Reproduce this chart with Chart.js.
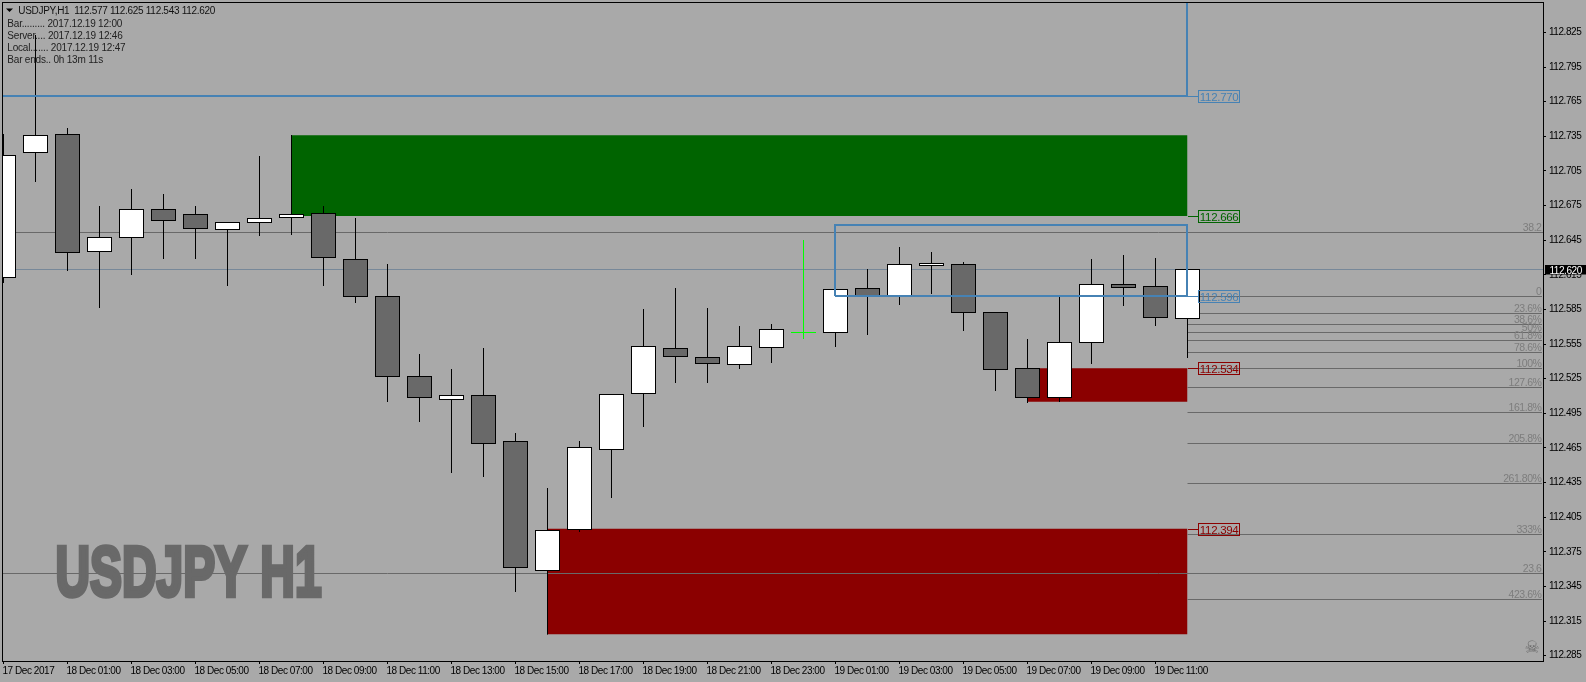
<!DOCTYPE html>
<html>
<head>
<meta charset="utf-8">
<style>html,body{margin:0;padding:0;background:#A9A9A9;overflow:hidden}canvas{display:block}</style>
<script src="https://cdn.jsdelivr.net/npm/chart.js@4"></script>
</head>
<body>
<canvas id="c" width="1586" height="682"></canvas>
<script>
const opens  = [112.613,112.721,112.737,112.635,112.647,112.672,112.668,112.654,112.660,112.665,112.669,112.629,112.597,112.527,112.507,112.511,112.471,112.359,112.394,112.464,112.512,112.552,112.544,112.537,112.552,112.565,112.565,112.604,112.597,112.623,112.624,112.583,112.534,112.509,112.556,112.607,112.605,112.577];
const closes = [112.719,112.736,112.634,112.648,112.672,112.662,112.655,112.661,112.664,112.668,112.630,112.596,112.527,112.509,112.511,112.469,112.361,112.394,112.466,112.512,112.553,112.544,112.538,112.553,112.568,112.565,112.603,112.597,112.624,112.625,112.582,112.533,112.509,112.557,112.607,112.604,112.578,112.620];
const highs  = [112.737,112.823,112.742,112.675,112.689,112.685,112.675,112.661,112.718,112.668,112.675,112.664,112.624,112.546,112.533,112.552,112.478,112.430,112.471,112.512,112.585,112.604,112.586,112.571,112.572,112.645,112.603,112.620,112.639,112.635,112.626,112.583,112.559,112.596,112.629,112.632,112.630,112.625];
const lows   = [112.608,112.696,112.619,112.587,112.615,112.629,112.629,112.606,112.649,112.650,112.606,112.591,112.505,112.488,112.444,112.440,112.341,112.357,112.393,112.422,112.484,112.522,112.522,112.534,112.539,112.560,112.553,112.563,112.589,112.599,112.567,112.515,112.504,112.505,112.538,112.588,112.571,112.543];

const xTickLabels = ["17 Dec 2017","18 Dec 01:00","18 Dec 03:00","18 Dec 05:00","18 Dec 07:00","18 Dec 09:00","18 Dec 11:00","18 Dec 13:00","18 Dec 15:00","18 Dec 17:00","18 Dec 19:00","18 Dec 21:00","18 Dec 23:00","19 Dec 01:00","19 Dec 03:00","19 Dec 05:00","19 Dec 07:00","19 Dec 09:00","19 Dec 11:00"];
const yTickValues = [112.285,112.315,112.345,112.375,112.405,112.435,112.465,112.495,112.525,112.555,112.585,112.615,112.645,112.675,112.705,112.735,112.765,112.795,112.825];

const zoneStartBars = [9,17,32];
const zoneEndBar = 37;
const zoneTops = [112.736,112.395,112.534];
const zoneBottoms = [112.666,112.3035,112.505];
const zoneColors = ["#006400","#8B0000","#8B0000"];

const fiboLabels = ["0","23.6%","38.6%","50%","61.8%","78.6%","100%","127.6%","161.8%","205.8%","261.80%","333%","423.6%"];
const fiboPrices = [112.59623,112.5815,112.57197,112.56503,112.5581,112.5477,112.53384,112.51737,112.49571,112.46885,112.43419,112.38999,112.33367];
const fiboEndBar = 48.078;

const fullLevelLabels = ["38.2","23.6"];
const fullLevelPrices = [112.65169,112.3562];
const bidPrice = 112.6196;
const bidText = "112.620";

const priceTagTexts = ["112.770","112.666","112.596","112.534","112.394"];
const priceTagPrices = [112.76997,112.666,112.5967,112.534,112.395];
const priceTagColors = ["#4682B4","#006400","#4682B4","#8B0000","#8B0000"];

const blueBoxStart = 26;
const blueBoxTop = 112.65819;
const blueBoxBottom = 112.5967;
const upperBoxBottom = 112.76997;
const blueColor = "#4682B4";

const headerText = "USDJPY,H1  112.577 112.625 112.543 112.620";
const infoLines = ["Bar......... 2017.12.19 12:00","Server.... 2017.12.19 12:46","Local....... 2017.12.19 12:47","Bar ends.. 0h 13m 11s"];
const watermark = "USDJPY H1";

const BG = "#A9A9A9", DARK = "#696969", FONT = "'Liberation Sans'";
const bars = opens.map((_, i) => i);
const bodyFill = bars.map(i => closes[i] > opens[i] ? "#FFFFFF" : closes[i] < opens[i] ? DARK : "#00FF00");
const bodyEdge = bars.map(i => closes[i] === opens[i] ? "#00FF00" : "#000000");
const bodyBorder = bars.map(i => closes[i] === opens[i] ? 0 : 1);
const wickColor = bars.map(i => closes[i] === opens[i] ? "#00FF00" : "#000000");

const datasets = [];
const line = (pts, color, width, order, extra) => datasets.push(Object.assign({
  type: "line", data: pts, borderColor: color, borderWidth: width, pointRadius: 0, pointHitRadius: 0,
  tension: 0, order, fill: false, borderJoinStyle: "miter", borderCapStyle: "butt"
}, extra || {}));

zoneStartBars.forEach((s, i) => line(
  [{x: s, y: zoneTops[i]}, {x: zoneEndBar, y: zoneTops[i]}], "transparent", 0, 90,
  {fill: {value: zoneBottoms[i]}, backgroundColor: zoneColors[i], snap: "none"}));
[0, 1].forEach(i => line([{x: zoneStartBars[i], y: zoneTops[i]}, {x: zoneStartBars[i], y: zoneBottoms[i]}], "#000000", 1, 60, {snap: "none"}));
fullLevelPrices.forEach(p => line([{x: -1, y: p}, {x: 49, y: p}], DARK, 1, 80));
line([{x: -1, y: bidPrice}, {x: 49, y: bidPrice}], "#778899", 1, 80);
fiboPrices.forEach(p => line([{x: zoneEndBar, y: p}, {x: fiboEndBar, y: p}], DARK, 1, 80));

datasets.push({type: "bar", grouped: false, order: 50, barThickness: 1, borderWidth: 0, inflateAmount: 0,
  data: bars.map(i => ({x: i, y: [lows[i], highs[i]]})), backgroundColor: wickColor});
datasets.push({type: "bar", grouped: false, order: 40, barThickness: 25, borderWidth: bodyBorder, borderSkipped: false, inflateAmount: 0,
  data: bars.map(i => ({x: i, y: [opens[i], closes[i]]})), backgroundColor: bodyFill, borderColor: bodyEdge});

line([{x: -1, y: upperBoxBottom}, {x: zoneEndBar, y: upperBoxBottom}, {x: zoneEndBar, y: 113}], blueColor, 2, 10);
line([{x: blueBoxStart, y: blueBoxBottom}, {x: blueBoxStart, y: blueBoxTop}, {x: zoneEndBar, y: blueBoxTop}, {x: zoneEndBar, y: blueBoxBottom}, {x: blueBoxStart, y: blueBoxBottom}], blueColor, 2, 10);

const overlay = {
  id: "overlay",
  beforeDraw(chart) {
    const c = chart.ctx;
    c.fillStyle = BG; c.fillRect(0, 0, chart.width, chart.height);
    c.letterSpacing = "-0.45px";
  },
  afterDatasetsUpdate(chart) {
    chart.data.datasets.forEach((ds, di) => {
      const meta = chart.getDatasetMeta(di);
      if (ds.type === "bar") {
        meta.data.forEach(el => {
          if (Math.abs(el.y - el.base) < 0.01) { el.y = Math.floor(el.y); el.base = el.y + 1; return; }
          const top = Math.round(Math.min(el.y, el.base));
          const bottom = Math.ceil(Math.max(el.y, el.base));
          el.y = top; el.base = Math.max(bottom, top + 1);
        });
      } else if (ds.snap !== "none") {
        meta.data.forEach(el => {
          if (ds.borderWidth === 2) { el.y = Math.round(el.y); el.x = Math.floor(el.x); }
          else el.y = Math.floor(el.y) + 0.5;
        });
      }
    });
  },
  beforeDatasetsDraw(chart) {
    const c = chart.ctx;
    c.save();
    c.letterSpacing = "0px";
    c.font = "bold 71px 'Liberation Sans Narrow','Liberation Sans'";
    const w = c.measureText(watermark).width;
    c.translate(55.5, 595.5);
    c.scale(266 / w, 1);
    c.fillStyle = DARK; c.strokeStyle = DARK; c.lineWidth = 4.5; c.lineJoin = "miter";
    c.fillText(watermark, 0, 0);
    c.strokeText(watermark, 0, 0);
    c.restore();
  },
  afterDraw(chart) {
    const c = chart.ctx, y = chart.scales.y, x = chart.scales.x;
    c.save();
    c.strokeStyle = "#000"; c.lineWidth = 1;
    c.strokeRect(2.5, 2.5, 1541, 659);
    c.textBaseline = "alphabetic";
    c.letterSpacing = "-0.3px";
    c.fillStyle = "#000"; c.beginPath(); c.moveTo(6, 8.5); c.lineTo(13, 8.5); c.lineTo(9.5, 12); c.closePath(); c.fill();
    c.font = "10px " + FONT; c.textAlign = "left"; c.fillStyle = "#111";
    c.fillText(headerText, 18.3, 14);
    c.letterSpacing = "-0.2px";
    c.fillStyle = "#222";
    infoLines.forEach((t, i) => c.fillText(t, 7.3, 27 + 12 * i));
    c.letterSpacing = "-0.45px";
    c.font = "10.5px " + FONT; c.textAlign = "right"; c.fillStyle = "#7d7d7d";
    fiboLabels.forEach((t, i) => c.fillText(t, 1541.5, Math.floor(y.getPixelForValue(fiboPrices[i])) - 1.5));
    fullLevelLabels.forEach((t, i) => c.fillText(t, 1541.5, Math.floor(y.getPixelForValue(fullLevelPrices[i])) - 1.5));
    c.font = "11.5px " + FONT; c.textAlign = "left"; c.letterSpacing = "-0.3px";
    const tagEnd = x.getPixelForValue(zoneEndBar);
    priceTagTexts.forEach((t, i) => {
      const py = Math.round(y.getPixelForValue(priceTagPrices[i])) + 0.5;
      c.strokeStyle = priceTagColors[i]; c.fillStyle = priceTagColors[i];
      c.beginPath(); c.moveTo(tagEnd + 0.5, py); c.lineTo(1198, py); c.stroke();
      c.strokeRect(1198.5, py - 6, 41, 12);
      c.fillText(t, 1199.8, py + 4);
    });
    c.letterSpacing = "-0.45px";
    c.fillStyle = "#000"; c.fillRect(1545, 265, 41, 9.5);
    c.font = "10px " + FONT; c.fillStyle = "#fff";
    c.fillText(bidText, 1549.5, 273.5);
    c.letterSpacing = "0px";
    c.font = "17px 'DejaVu Sans'"; c.textAlign = "center"; c.fillStyle = DARK;
    c.fillText("\u2620", 1532, 652.5);
    c.restore();
  }
};

new Chart(document.getElementById("c"), {
  type: "bar",
  data: {datasets},
  plugins: [overlay],
  options: {
    responsive: false, animation: false, devicePixelRatio: 1,
    layout: {padding: {left: 3, top: 3, right: 0, bottom: 0}},
    plugins: {legend: {display: false}, tooltip: {enabled: false}, title: {display: false}},
    events: [],
    scales: {
      x: {
        type: "linear", position: "bottom", min: -0.015625, max: 48.109375, offset: false,
        afterBuildTicks(s) { s.ticks = xTickLabels.map((_, i) => ({value: i * 2})); },
        afterFit(s) { s.height = 21; s.paddingLeft = 0; s.paddingRight = 0; s.paddingTop = 0; s.paddingBottom = 0; },
        border: {display: false},
        grid: {drawOnChartArea: false, drawTicks: true, tickLength: 3, color: "#000", offset: false},
        ticks: {autoSkip: false, maxRotation: 0, minRotation: 0, align: "start", padding: 1, labelOffset: -1, color: "#000",
          font: {family: FONT, size: 10}, callback: v => xTickLabels[v / 2]}
      },
      y: {
        type: "linear", position: "right", min: 112.280373, max: 112.850563,
        afterBuildTicks(s) { s.ticks = yTickValues.map(v => ({value: v})); },
        afterFit(s) { s.width = 43; s.paddingLeft = 0; s.paddingRight = 0; s.paddingTop = 0; s.paddingBottom = 0; },
        border: {display: false},
        grid: {drawOnChartArea: false, drawTicks: true, tickLength: 3, color: "#000"},
        ticks: {autoSkip: false, padding: 3, color: "#000", font: {family: FONT, size: 10}, callback: v => v.toFixed(3)}
      }
    }
  }
});
</script>
</body>
</html>
